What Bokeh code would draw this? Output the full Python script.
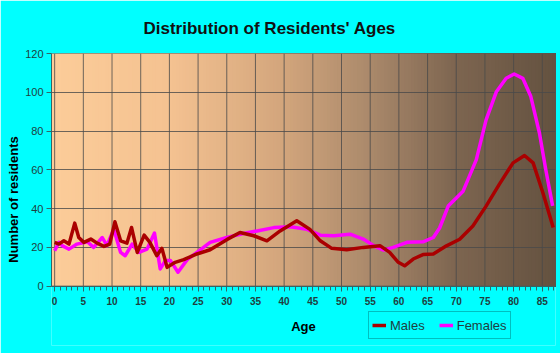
from bokeh.plotting import figure
from bokeh.models import Range1d, SingleIntervalTicker, FixedTicker, Legend, LegendItem, ColumnDataSource, Title
from bokeh.embed import file_html
from bokeh.resources import INLINE

# ---- data ----
male_age = [0, 0.75, 1.6, 2.5, 3.5, 4.2, 5.1, 6.3, 7.4, 8.6, 9.6, 10.5, 11.5, 12.6, 13.4, 14.4,
            15.6, 16.6, 17.8, 18.7, 19.6, 21.0, 22.5, 24.8, 27.1, 30.0, 32.3, 34.7, 37.0, 39.3,
            42.2, 44.5, 46.3, 48.3, 50.9, 53.8, 56.7, 58.4, 59.9, 61.0, 62.5, 64.2, 66.0, 68.3,
            70.6, 72.9, 75.2, 77.5, 79.9, 81.9, 83.4, 85.1, 86.9]
male_val = [22.6, 21.7, 23.4, 21.7, 32.5, 25.1, 22.6, 24.3, 22.2, 20.5, 21.7, 33.2, 23.4, 22.2, 30.3, 17.4,
            26.3, 22.6, 15.7, 19.5, 9.7, 12.3, 13.7, 16.6, 18.8, 24.0, 27.7, 26.0, 23.4, 28.5,
            33.7, 29.3, 23.4, 19.5, 18.8, 20.0, 20.9, 17.4, 12.3, 10.5, 14.0, 16.3, 16.6, 20.8,
            24.2, 31.0, 41.3, 52.5, 63.6, 67.4, 63.6, 48.2, 30.3]

female_age = [0, 0.75, 1.3, 2.5, 3.9, 5.7, 6.8, 8.3, 9.1, 10.3, 11.5, 12.3, 13.5, 14.7, 16.1,
              17.4, 18.4, 19.3, 20.2, 21.5, 23.1, 24.8, 27.1, 30.0, 32.9, 35.3, 38.2, 41.1, 44.0,
              46.3, 48.7, 51.5, 53.8, 55.6, 57.3, 59.0, 61.4, 64.2, 66.0, 67.1, 68.6, 71.2, 73.5,
              75.2, 77.0, 78.7, 80.1, 81.6, 83.0, 84.5, 85.6, 86.8]
female_val = [18.3, 22.6, 20.9, 19.1, 21.7, 22.9, 20.0, 25.1, 20.9, 29.3, 17.4, 15.7, 21.7, 17.4, 19.1,
              27.4, 8.9, 13.2, 13.2, 7.2, 13.7, 17.4, 22.6, 25.1, 27.2, 28.5, 30.2, 30.6, 29.3,
              26.3, 26.0, 26.8, 24.3, 20.9, 18.6, 20.0, 22.6, 22.9, 25.1, 30.0, 41.3, 49.0, 65.3,
              85.8, 100.3, 107.2, 109.4, 107.2, 97.8, 79.0, 60.2, 41.4]

x_ticks = [0, 5, 10, 15, 20, 25, 30, 35, 40, 45, 50, 55, 60, 65, 70, 75, 80, 85]
y_ticks = [0, 20, 40, 60, 80, 100, 120]

x_min = -0.55   # small gap so the "0" tick label is not clipped
x_max = 87.3
y_max = 120
y_low = -30.6   # space below the axis that holds the axis title and legend

CYAN = "#00FFFF"
GRID = "#4a4a4a"

# ---- figure ----
p = figure(width=560, height=353, output_backend="svg", toolbar_location=None,
           x_range=Range1d(x_min, x_max), y_range=Range1d(y_low, y_max),
           min_border_left=51, min_border_right=5, min_border_top=50, min_border_bottom=8)
p.border_fill_color = CYAN
p.background_fill_color = CYAN
p.outline_line_color = None

# gradient background (style only): each strip runs to the right edge, next one covers it
stops = [(0, (252, 204, 153)), (20, (244, 194, 145)), (40, (210, 165, 124)),
         (55, (170, 137, 107)), (70, (125, 101, 80)), (x_max, (100, 82, 64))]
def col_at(a):
    a = max(a, 0)
    for (a0, c0), (a1, c1) in zip(stops[:-1], stops[1:]):
        if a0 <= a <= a1:
            t = (a - a0) / (a1 - a0)
            return "#%02x%02x%02x" % tuple(int(round(c0[i] + t * (c1[i] - c0[i]))) for i in range(3))
    return "#%02x%02x%02x" % stops[-1][1]
n = 150
w = (x_max - x_min) / n
lefts = [x_min + i * w for i in range(n)]
bg = ColumnDataSource(dict(l=lefts, r=[x_max] * n, c=[col_at(v + w / 2) for v in lefts]))
qr = p.quad(left="l", right="r", bottom=0, top=y_max, fill_color="c", line_color=None, source=bg)
qr.level = "image"

# grid: horizontal lines from the y ticks, vertical lines only over the plot area
p.xaxis.ticker = SingleIntervalTicker(interval=5, num_minor_ticks=5)
p.yaxis.ticker = FixedTicker(ticks=y_ticks)
p.xgrid.visible = False
p.ygrid.ticker = FixedTicker(ticks=y_ticks)
p.ygrid.grid_line_color = GRID
p.ygrid.grid_line_alpha = 0.8
p.segment(x0=x_ticks, x1=x_ticks, y0=0, y1=y_max, line_color=GRID, line_alpha=0.8, line_width=1)

# plot-area border
p.quad(left=x_min, right=x_max, bottom=0, top=y_max, fill_color=None, line_color="#555555")

p.xaxis.fixed_location = 0
p.yaxis.bounds = (0, y_max)

for ax in (p.xaxis, p.yaxis):
    ax.axis_line_color = "#336666"
    ax.major_tick_line_color = "#336666"
    ax.minor_tick_line_color = "#336666"
    ax.major_label_text_color = "#1f3f3f"
    ax.major_label_text_font = "Liberation Sans"
    ax.major_label_text_font_size = "10px"
    ax.axis_label_text_font = "Liberation Sans"
    ax.axis_label_text_font_style = "bold"
    ax.axis_label_text_font_size = "13px"
    ax.axis_label_text_color = "#000000"
p.yaxis.major_label_text_font_size = "11px"
p.yaxis.major_label_standoff = 3
p.xaxis.major_label_text_font_style = "bold"
p.xaxis.major_tick_out = 5
p.xaxis.major_tick_in = 0
p.xaxis.minor_tick_out = 4
p.xaxis.minor_tick_in = 0
p.xaxis.major_label_standoff = 6
p.yaxis.major_tick_out = 5
p.yaxis.major_tick_in = 0
p.yaxis.minor_tick_line_color = None
p.xaxis.axis_label = "Age"
p.xaxis.axis_label_standoff = 10

# y-axis title placed as a side title so that it can be centred on the 0..120 span
ytitle = Title(text="Number of residents", align="center", offset=62,
               text_font="Liberation Sans", text_font_size="13px", text_font_style="bold",
               text_color="#000000", standoff=4)
p.add_layout(ytitle, "left")

p.title.text = "Distribution of Residents' Ages"
p.title.align = "left"
p.title.offset = 92
p.title.text_font = "Liberation Sans"
p.title.text_font_size = "17px"
p.title.text_font_style = "bold"
p.title.text_color = "#111111"
p.title.standoff = 32

rf = p.line(female_age, female_val, line_color="#FF00FF", line_width=3.5, line_join="round")
rm = p.line(male_age, male_val, line_color="#AA0000", line_width=3.5, line_join="round")

legend = Legend(items=[LegendItem(label="Males", renderers=[rm]),
                       LegendItem(label="Females", renderers=[rf])],
                orientation="horizontal", location=(317, 6))
legend.background_fill_color = CYAN
legend.border_line_color = "#008080"
legend.label_text_font = "Liberation Sans"
legend.label_text_font_size = "13px"
legend.label_text_color = "#1f3f3f"
legend.glyph_width = 14
legend.label_standoff = 4
legend.spacing = 14
legend.padding = 3
legend.margin = 0
p.add_layout(legend, "center")

open("out.html", "w").write(file_html(p, INLINE))
